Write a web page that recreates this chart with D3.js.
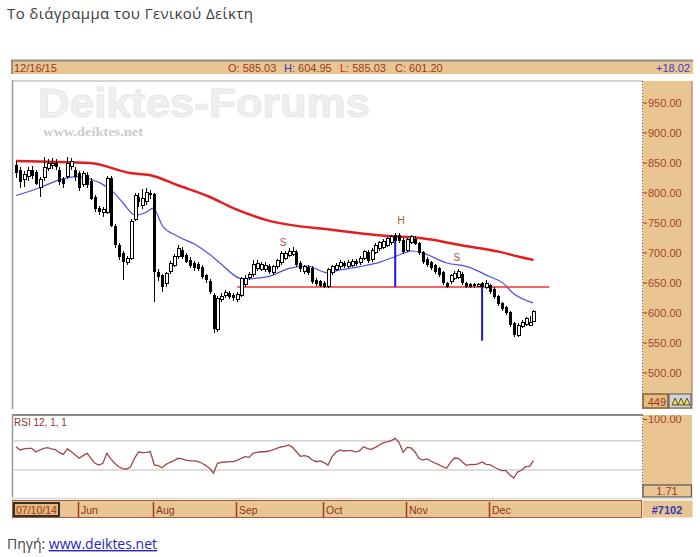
<!DOCTYPE html>
<html>
<head>
<meta charset="utf-8">
<script src="https://cdn.jsdelivr.net/npm/d3@7"></script>
<style>
body { margin: 0; background: #fff; }
svg { display: block; }
</style>
</head>
<body>
<div id="chart"></div>
<script>
// Daily candles, one entry per trading day (index 0 .. 131)
var open = [846, 838, 822, 826, 838, 834, 808, 825, 840, 845,
    850, 838, 822, 826, 843, 838, 832, 814, 830, 820,
    793, 774, 766, 766, 824, 745, 712, 700, 684, 690,
    755, 793, 778, 785, 800, 798, 668, 662, 648, 668,
    679, 693, 704, 696, 688, 682, 681, 676, 662, 652,
    630, 572, 621, 628, 633, 630, 621, 628, 647, 658,
    663, 673, 672, 671, 678, 666, 676, 684, 690, 695,
    697, 701, 682, 668, 676, 674, 654, 652, 650, 643,
    666, 672, 676, 683, 677, 679, 686, 684, 690, 701,
    688, 700, 706, 709, 712, 716, 729, 729, 721, 704,
    717, 723, 716, 701, 690, 684, 679, 674, 668, 649,
    651, 657, 659, 665, 649, 647, 647, 644, 649, 641,
    646, 640, 628, 616, 610, 601, 582, 562, 576, 580,
    579, 585.03];
var high = [852, 842, 836, 842, 844, 838, 826, 860, 856, 858,
    856, 842, 826, 860, 858, 842, 836, 836, 835, 824,
    796, 778, 776, 828, 828, 748, 716, 703, 694, 756,
    800, 800, 806, 808, 804, 800, 672, 665, 668, 686,
    698, 712, 710, 700, 692, 686, 684, 679, 665, 656,
    632, 628, 632, 638, 636, 633, 634, 660, 662, 668,
    688, 688, 685, 684, 681, 680, 690, 702, 703, 708,
    709, 704, 686, 680, 680, 678, 657, 655, 652, 674,
    680, 683, 688, 686, 687, 689, 689, 694, 705, 705,
    708, 716, 720, 722, 726, 729, 733, 732, 724, 724,
    729, 727, 718, 703, 692, 686, 681, 676, 670, 651,
    665, 670, 672, 668, 651, 650, 649, 649, 651, 654,
    648, 642, 630, 618, 611, 603, 584, 582, 587, 593,
    594, 604.95];
var low = [825, 808, 810, 820, 822, 812, 793, 820, 836, 840,
    838, 812, 808, 822, 838, 820, 802, 810, 808, 788,
    768, 762, 760, 764, 742, 708, 688, 655, 680, 688,
    752, 776, 772, 780, 790, 618, 652, 635, 642, 664,
    676, 690, 690, 682, 674, 670, 669, 656, 650, 631,
    566, 568, 618, 624, 622, 620, 618, 626, 643, 655,
    660, 670, 669, 667, 665, 663, 672, 680, 687, 692,
    694, 676, 668, 664, 662, 648, 644, 642, 641, 641,
    663, 669, 673, 675, 674, 676, 678, 680, 687, 683,
    685, 697, 703, 706, 709, 713, 716, 716, 698, 701,
    714, 712, 696, 681, 676, 671, 665, 659, 646, 641,
    648, 654, 656, 646, 641, 641, 641, 642, 641, 639,
    631, 623, 611, 603, 596, 576, 559, 560, 574, 577,
    577, 585.03];
var close = [833, 818, 830, 836, 827, 815, 822, 842, 848, 849,
    843, 818, 814, 848, 852, 826, 808, 832, 812, 790,
    772, 768, 772, 824, 745, 712, 692, 684, 690, 752,
    795, 784, 790, 800, 796, 668, 660, 643, 665, 682,
    693, 707, 693, 685, 677, 674, 672, 660, 654, 634,
    572, 624, 626, 634, 626, 624, 630, 656, 657, 664,
    680, 682, 680, 679, 668, 676, 687, 698, 699, 701,
    702, 680, 672, 676, 666, 651, 648, 645, 643, 671,
    676, 679, 684, 678, 683, 685, 681, 690, 701, 686,
    704, 712, 716, 718, 723, 726, 720, 719, 701, 721,
    726, 715, 699, 684, 679, 674, 668, 662, 649, 643,
    662, 665, 668, 649, 643, 643, 644, 646, 643, 649,
    634, 626, 614, 606, 599, 579, 562, 579, 584, 590,
    583.18, 601.2];

// RSI 12 per day
var rsi = [61.9, 57.4, 58.8, 59.7, 59.7, 54.6, 57.4, 59.7, 60.6, 58.8,
    57.9, 53.7, 51.4, 59.2, 55.0, 50.5, 46.0, 49.6, 52.8, 46.0,
    39.1, 36.8, 39.1, 52.8, 45.1, 39.1, 34.4, 31.8, 31.3, 34.4,
    46.0, 54.6, 53.7, 54.2, 55.0, 36.8, 35.9, 33.0, 37.7, 40.5,
    42.8, 46.0, 45.1, 43.6, 42.3, 42.3, 41.8, 39.5, 36.3, 32.2,
    25.4, 39.1, 40.5, 40.9, 41.3, 41.3, 43.2, 46.0, 48.2, 47.3,
    52.8, 54.2, 55.0, 55.0, 56.0, 57.4, 59.7, 61.5, 62.4, 64.3,
    61.0, 55.0, 48.7, 49.6, 48.2, 43.6, 41.3, 42.3, 40.0, 36.8,
    48.2, 54.2, 57.4, 56.0, 56.4, 56.4, 54.6, 56.4, 61.9, 59.2,
    58.3, 61.0, 64.3, 67.5, 68.4, 70.2, 73.4, 67.5, 54.2, 61.0,
    60.2, 55.0, 46.0, 43.6, 45.1, 42.3, 39.5, 37.2, 34.4, 32.2,
    40.5, 46.4, 46.0, 40.9, 36.3, 37.7, 37.2, 38.2, 40.9, 37.7,
    37.2, 34.0, 31.3, 29.0, 29.0, 23.5, 18.9, 27.2, 29.5, 34.4,
    34.9, 42.8];

// Moving averages: [day index, value]
var maSlow = [[0, 852.5], [18.7, 849], [28.9, 832.5], [34.7, 827.5], [40.8, 812.5],
    [49.1, 792.5], [55, 774], [63.5, 754], [80.3, 737.5], [94, 727.5],
    [102.3, 724], [112.4, 712.5], [122.5, 701], [127.6, 692.5], [131, 687.5]];
var maFast = [[0, 795], [6, 808], [11, 821], [15.4, 826.5], [18.7, 822.5], [21.3, 816],
    [24.6, 801], [27.1, 782.5], [30.1, 762.5], [33.2, 768], [34.7, 774], [37.2, 743],
    [40.8, 727.5], [46, 711], [49, 697], [51.6, 682.5], [57.5, 656], [63.5, 659.5],
    [69.4, 674], [73.7, 677.5], [78.7, 666.5], [82, 671], [87.1, 676.5], [92.2, 684],
    [95.9, 693], [100.5, 702.5], [103, 699], [109.1, 682.5], [114.2, 676.5], [120, 659.5],
    [123.3, 649], [125.8, 632.5], [130.9, 616]];

// Head & shoulders drawing
var neckline = { from: 56, to: 135, value: 642.5 };
var targets = [{ i: 96, top: 727, bottom: 642.5 }, { i: 118, top: 642.5, bottom: 553 }];
var patternLabels = [{ t: "S", i: 67.6, v: 717 }, { t: "H", i: 97.5, v: 753 }, { t: "S", i: 111.6, v: 692 }];

var priceTicks = [500, 550, 600, 650, 700, 750, 800, 850, 900, 950];
var priceFloor = 449;
var rsiRange = [1.71, 100];
var rsiGrid = [70, 30];
var months = [{ label: "Jun", i: 16 }, { label: "Aug", i: 35 }, { label: "Sep", i: 56 },
    { label: "Oct", i: 78 }, { label: "Nov", i: 99 }, { label: "Dec", i: 120 }];

function init() {
    var w = 700;
    var h = 557;
    var tan = "#e9c592";
    var brown = "#9a3a22";
    var font = "'Liberation Sans', Arial, sans-serif";

    var svg = d3.select("#chart")
        .append("svg")
        .attr("width", w)
        .attr("height", h);

    // page title and source line
    svg.append("text")
        .attr("x", 7).attr("y", 18.5)
        .attr("font-family", "'Open Sans', sans-serif")
        .attr("font-size", 15)
        .attr("textLength", 246).attr("lengthAdjust", "spacing")
        .attr("fill", "#3b3b3b")
        .text("Το διάγραμμα του Γενικού Δείκτη");

    var src = svg.append("text")
        .attr("x", 7).attr("y", 549)
        .attr("font-family", "'Open Sans', sans-serif")
        .attr("font-size", 14)
        .attr("fill", "#444");
    src.append("tspan").text("Πηγή: ");
    src.append("tspan").attr("fill", "#2323c8").attr("text-decoration", "underline").text("www.deiktes.net");

    // scales
    var x = d3.scaleLinear().domain([0, 131]).range([16, 16 + 3.95 * 131]);
    var y = d3.scaleLinear().domain([500, 950]).range([372.5, 102.5]);
    var yR = d3.scaleLinear().domain(rsiRange).range([490.5, 419]);

    // header bar with last quote
    svg.append("rect").attr("x", 12).attr("y", 60).attr("width", 681).attr("height", 14).attr("fill", tan);
    svg.append("line").attr("x1", 11).attr("x2", 693).attr("y1", 60.5).attr("y2", 60.5)
        .attr("stroke", "#8c8c8c").attr("stroke-width", 2);
    svg.append("line").attr("x1", 12).attr("x2", 12).attr("y1", 60).attr("y2", 74)
        .attr("stroke", "#777").attr("stroke-width", 1.5);

    var last = open.length - 1;
    var header = svg.append("g").attr("font-family", font).attr("font-size", 11).attr("fill", brown);
    header.append("text").attr("x", 14).attr("y", 71.5).text("12/16/15");
    var quote = [
        { k: "O: ", v: open[last], x: 228, c: brown },
        { k: "H: ", v: high[last], x: 284, c: "#3c3cb4" },
        { k: "L: ", v: low[last], x: 340, c: "#e02020" },
        { k: "C: ", v: close[last], x: 395, c: brown }
    ];
    quote.forEach(q => {
        var t = header.append("text").attr("x", q.x).attr("y", 71.5);
        t.append("tspan").attr("fill", q.c).text(q.k);
        t.append("tspan").text(d3.format(".2f")(q.v));
    });
    header.append("text").attr("x", 690).attr("y", 71.5).attr("text-anchor", "end")
        .attr("fill", "#3c3cc8")
        .text("+" + d3.format(".2f")(close[last] - close[last - 1]));

    // main panel frame
    svg.append("line").attr("x1", 12).attr("x2", 643).attr("y1", 81).attr("y2", 81)
        .attr("stroke", "#c4c4c4").attr("stroke-width", 1.5);
    svg.append("line").attr("x1", 12.5).attr("x2", 12.5).attr("y1", 80).attr("y2", 409)
        .attr("stroke", "#999").attr("stroke-width", 1.5);

    // watermark
    svg.append("text")
        .attr("x", 38).attr("y", 117)
        .attr("font-family", font).attr("font-weight", "bold").attr("font-size", 40)
        .attr("textLength", 332).attr("lengthAdjust", "spacingAndGlyphs")
        .attr("fill", "#efefef").attr("stroke", "#e6e6e6").attr("stroke-width", 0.8)
        .text("Deiktes-Forums");
    svg.append("text")
        .attr("x", 43).attr("y", 136)
        .attr("font-family", "'Liberation Serif', serif").attr("font-weight", "bold").attr("font-size", 13)
        .attr("textLength", 100).attr("lengthAdjust", "spacingAndGlyphs")
        .attr("fill", "#cccccc")
        .text("www.deiktes.net");

    // moving averages
    var maLine = d3.line().x(d => x(d[0])).y(d => y(d[1])).curve(d3.curveMonotoneX);
    svg.append("path").datum(maSlow).attr("d", maLine)
        .attr("fill", "none").attr("stroke", "#e31e1e").attr("stroke-width", 2.5);
    svg.append("path").datum(maFast).attr("d", maLine)
        .attr("fill", "none").attr("stroke", "#5050e0").attr("stroke-width", 1.2);

    // neckline and target lines
    svg.append("line")
        .attr("x1", x(neckline.from)).attr("x2", x(neckline.to))
        .attr("y1", y(neckline.value)).attr("y2", y(neckline.value))
        .attr("stroke", "#f03030").attr("stroke-width", 1.3);
    svg.selectAll(".target")
        .data(targets)
        .enter()
        .append("line")
        .attr("class", "target")
        .attr("x1", d => x(d.i)).attr("x2", d => x(d.i))
        .attr("y1", d => y(d.top)).attr("y2", d => y(d.bottom))
        .attr("stroke", "#1818d0").attr("stroke-width", 2);

    // candles
    var candles = open.map((o, i) => ({ i: i, o: o, h: high[i], l: low[i], c: close[i] }));
    var cg = svg.append("g").attr("shape-rendering", "crispEdges");
    cg.selectAll(".wick")
        .data(candles)
        .enter()
        .append("line")
        .attr("x1", d => Math.round(x(d.i)) + 0.5)
        .attr("x2", d => Math.round(x(d.i)) + 0.5)
        .attr("y1", d => y(d.h))
        .attr("y2", d => y(d.l))
        .attr("stroke", "#000");
    cg.selectAll(".body")
        .data(candles)
        .enter()
        .append("rect")
        .attr("x", d => Math.round(x(d.i)) - 1)
        .attr("y", d => y(Math.max(d.o, d.c)))
        .attr("width", 3)
        .attr("height", d => Math.max(1, Math.abs(y(d.o) - y(d.c))))
        .attr("fill", d => d.c >= d.o ? "#fff" : "#000")
        .attr("stroke", "#000")
        .attr("stroke-width", d => d.c >= d.o ? 1 : 0);

    svg.selectAll(".plabel")
        .data(patternLabels)
        .enter()
        .append("text")
        .attr("x", d => x(d.i)).attr("y", d => y(d.v))
        .attr("text-anchor", "middle").attr("dominant-baseline", "central")
        .attr("font-family", font).attr("font-size", 10)
        .attr("fill", "#b85040")
        .text(d => d.t);

    // price axis panel
    svg.append("rect").attr("x", 642.5).attr("y", 81).attr("width", 49.5).attr("height", 328).attr("fill", tan);
    svg.append("line").attr("x1", 642.5).attr("x2", 642.5).attr("y1", 81).attr("y2", 409)
        .attr("stroke", "#b04848").attr("stroke-dasharray", "1,2");
    svg.append("line").attr("x1", 692).attr("x2", 692).attr("y1", 81).attr("y2", 409)
        .attr("stroke", "#b86060");

    var yAxis = d3.axisRight(y).tickValues(priceTicks).tickFormat(d3.format(".2f")).tickSize(4).tickPadding(1);
    var ya = svg.append("g").attr("transform", "translate(643,0)").call(yAxis);
    ya.select(".domain").remove();
    ya.selectAll("line").attr("stroke", brown);
    ya.selectAll("text").attr("fill", "#a5432a").attr("font-family", font).attr("font-size", 11);

    // low-of-range box and tool icon
    svg.append("rect").attr("x", 643).attr("y", 394).attr("width", 25).attr("height", 14)
        .attr("fill", "#e6bb80").attr("stroke", "#6b4a2a").attr("stroke-width", 1.2);
    svg.append("text").attr("x", 666).attr("y", 405.5).attr("text-anchor", "end")
        .attr("font-family", font).attr("font-size", 11).attr("fill", brown)
        .text(priceFloor);
    svg.append("rect").attr("x", 669).attr("y", 394).attr("width", 22).attr("height", 14)
        .attr("fill", "#d4d4d4").attr("stroke", "#555");
    [672, 678, 684].forEach(tx => {
        svg.append("path")
            .attr("d", `M${tx},405 L${tx + 3},398 L${tx + 6},405 Z`)
            .attr("fill", "#f0e040").attr("stroke", "#333").attr("stroke-width", 0.8);
    });

    // RSI panel
    svg.append("line").attr("x1", 12).attr("x2", 643).attr("y1", 415).attr("y2", 415)
        .attr("stroke", "#8a8a8a").attr("stroke-width", 2);
    svg.append("line").attr("x1", 12.5).attr("x2", 12.5).attr("y1", 414).attr("y2", 497)
        .attr("stroke", "#999").attr("stroke-width", 1.5);
    svg.selectAll(".grid")
        .data(rsiGrid)
        .enter()
        .append("line")
        .attr("x1", 14).attr("x2", 642)
        .attr("y1", d => yR(d)).attr("y2", d => yR(d))
        .attr("stroke", "#d2d2d2").attr("stroke-width", 1.5);
    svg.append("text").attr("x", 14).attr("y", 426)
        .attr("font-family", font).attr("font-size", 10).attr("fill", "#9a3030")
        .text("RSI 12, 1, 1");

    var rsiLine = d3.line().x((d, i) => x(i)).y(d => yR(d));
    svg.append("path").datum(rsi).attr("d", rsiLine)
        .attr("fill", "none").attr("stroke", "#a04646").attr("stroke-width", 1.3);

    svg.append("rect").attr("x", 642.5).attr("y", 415).attr("width", 49.5).attr("height", 82).attr("fill", tan);
    svg.append("line").attr("x1", 642.5).attr("x2", 642.5).attr("y1", 415).attr("y2", 497)
        .attr("stroke", "#b04848").attr("stroke-dasharray", "1,2");
    // clip is in the axis group's own coordinates (shifted by 643)
    svg.append("clipPath").attr("id", "rsiClip")
        .append("rect").attr("x", -2).attr("y", 415.5).attr("width", 52).attr("height", 82);
    var ra = svg.append("g").attr("transform", "translate(643,0)").attr("clip-path", "url(#rsiClip)")
        .call(d3.axisRight(yR).tickValues([rsiRange[1]]).tickFormat(d3.format(".2f")).tickSize(4).tickPadding(1));
    ra.select(".domain").remove();
    ra.selectAll("line").attr("stroke", brown);
    ra.selectAll("text").attr("fill", "#a5432a").attr("font-family", font).attr("font-size", 11);
    svg.append("rect").attr("x", 643).attr("y", 485).attr("width", 48.5).attr("height", 12)
        .attr("fill", tan).attr("stroke", "#555").attr("stroke-width", 1.2);
    svg.append("text").attr("x", 667).attr("y", 495).attr("text-anchor", "middle")
        .attr("font-family", font).attr("font-size", 11).attr("fill", brown)
        .text(d3.format(".2f")(rsiRange[0]));

    // date bar
    svg.append("line").attr("x1", 12).attr("x2", 693).attr("y1", 498.5).attr("y2", 498.5)
        .attr("stroke", "#d8d8d8").attr("stroke-width", 1.5);
    svg.append("rect").attr("x", 12.5).attr("y", 500.5).attr("width", 629).attr("height", 17)
        .attr("fill", tan).attr("stroke", "#a05a48").attr("stroke-width", 1);
    svg.append("rect").attr("x", 14).attr("y", 503).attr("width", 45).attr("height", 13)
        .attr("fill", "#e6b67a").attr("stroke", "#222").attr("stroke-width", 1.8);
    svg.append("text").attr("x", 16).attr("y", 514).attr("font-family", font).attr("font-size", 10.5)
        .attr("fill", brown).text("07/10/14");

    var mg = svg.selectAll(".month")
        .data(months)
        .enter()
        .append("g")
        .attr("transform", d => `translate(${Math.round(x(d.i)) - 0.5},0)`);
    mg.append("line").attr("y1", 502).attr("y2", 517).attr("stroke", "#a03a30").attr("stroke-width", 1.5);
    mg.append("text").attr("x", 2.5).attr("y", 514)
        .attr("font-family", font).attr("font-size", 10.5).attr("fill", "#8a3422")
        .text(d => d.label);

    svg.append("rect").attr("x", 642.5).attr("y", 500.5).attr("width", 50).attr("height", 17).attr("fill", tan);
    svg.append("text").attr("x", 667).attr("y", 514).attr("text-anchor", "middle")
        .attr("font-family", font).attr("font-size", 11).attr("font-weight", "bold").attr("fill", "#3535b8")
        .text("#7102");
}

window.onload = init;
</script>
</body>
</html>
